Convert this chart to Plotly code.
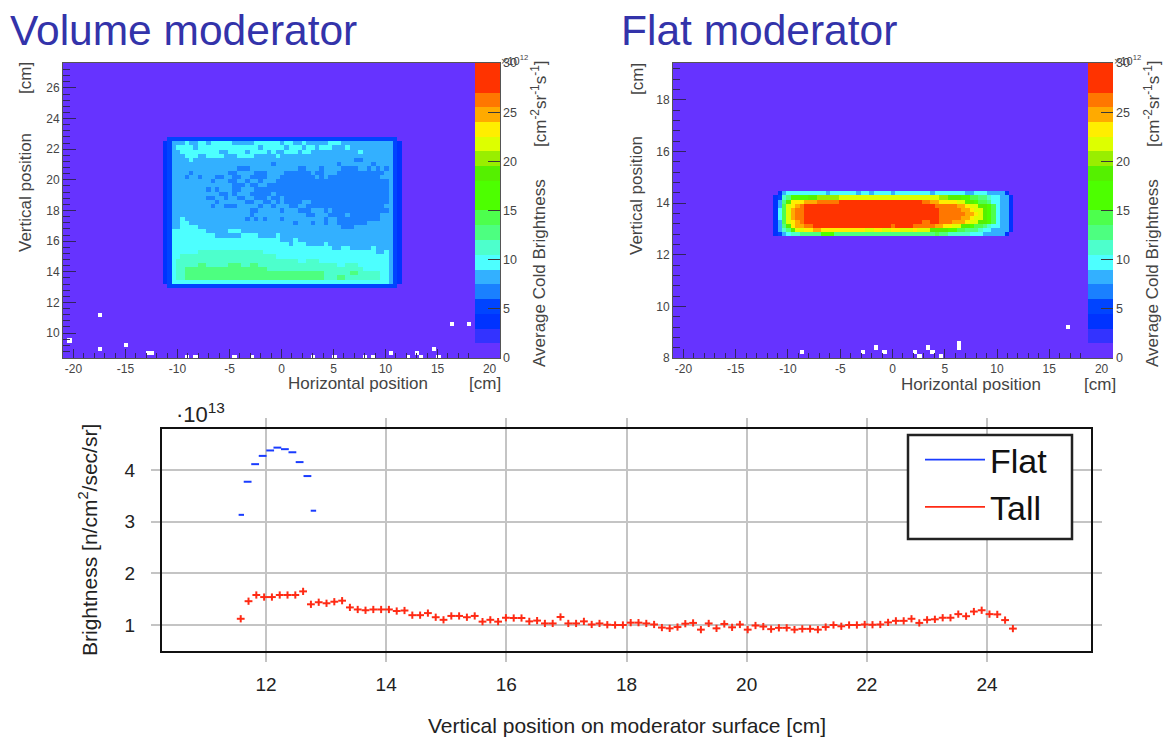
import numpy as np
import plotly.graph_objects as go

W, H = 1166, 740
def px(x): return x / W
def py(y): return 1 - y / H

# ---- bottom chart data (units of 1e13)
tall_values = [1.12,1.46,1.58,1.54,1.54,1.58,1.58,1.58,1.65,1.40,1.44,1.42,1.45,1.47,1.34,1.30,1.285,1.30,1.30,1.30,
 1.27,1.28,1.19,1.19,1.23,1.15,1.10,1.175,1.175,1.15,1.175,1.065,1.10,1.065,1.14,1.135,1.135,1.07,1.085,1.03,
 1.03,1.155,1.03,1.03,1.07,1.01,1.03,1.005,1.0,1.0,1.045,1.045,1.03,1.01,0.95,0.935,0.96,1.025,1.04,0.91,
 1.03,0.935,1.02,0.955,1.01,0.91,0.99,0.97,0.92,0.945,0.945,0.91,0.925,0.925,0.91,0.96,1.0,0.975,1.0,1.0,
 1.01,1.005,1.01,1.05,1.08,1.08,1.12,1.04,1.10,1.11,1.14,1.14,1.21,1.17,1.26,1.285,1.21,1.205,1.095,0.93]
tall_first, tall_last = 11.58, 24.43
flat_x = [11.59,11.695,11.82,11.945,12.07,12.19,12.315,12.44,12.56,12.69,12.79]
flat_values = [3.13,3.77,4.11,4.27,4.375,4.43,4.40,4.34,4.15,3.88,3.21]
flat_halfwidth = [0.045,0.065,0.065,0.065,0.065,0.065,0.065,0.065,0.065,0.065,0.045]

# ---- colour bands of the maps (one per 1.5e12)
band_colors = ["#6633ff","#3333ff","#0033ff","#0044ff","#1a80ff","#33b0ff","#4dffff","#4dffcc","#4dff80","#4dff4d",
               "#4dff00","#4dff00","#55f000","#99ee00","#ddff00","#ffee00","#ffaa00","#ff7700","#ff3300","#ff3300"]

# ---- map cells, one band digit per bin, top row first
volume_rows = [
"03333 33333 33333 33333 33333 33333 33333 33333 33333 33333 33330",
"23555 65566 56666 65555 56666 66566 55655 55566 65555 55555 55532",
"23566 66566 66666 66666 66566 66656 66566 56665 55655 55555 55532",
"23556 66666 66655 66665 66665 65566 65665 55555 55555 65555 55532",
"23555 66655 66665 55666 65555 56555 55555 55555 55555 55555 55532",
"23555 56555 55555 55555 55555 55555 55555 55555 55554 45555 55532",
"23555 55555 55555 55555 55555 45555 55555 55555 45555 55545 55532",
"23555 55555 55555 55444 55555 55555 54455 54555 54444 55454 54532",
"23555 54555 55555 44555 54445 55544 44445 44555 44444 44444 45532",
"23555 45545 55445 54455 44445 55444 44444 54544 44444 44444 55532",
"23555 55555 54555 44554 55455 54444 44444 44444 44444 44444 44532",
"23555 55555 55555 54445 44554 44444 44444 44444 44444 44444 44532",
"23555 55555 45455 54455 54444 44444 44444 44444 44444 44444 44532",
"23555 55555 55544 54555 44444 54444 44444 44444 44444 44444 44532",
"23555 55555 44554 55445 54445 44544 44444 44444 44444 44444 44532",
"23555 55555 55455 55554 45544 54544 44554 44444 44444 44444 44532",
"23555 55555 54554 44555 55455 45554 45544 44444 44444 44444 45532",
"23555 55555 55555 55555 44555 55455 54445 55454 44444 44444 44532",
"23555 55555 55555 55555 45555 55555 55544 55544 44544 44444 55532",
"23556 55555 55555 55554 54545 55455 55555 55455 44444 44444 55532",
"23556 65555 55555 55555 55555 55555 45554 55455 44444 44555 55532",
"23556 66655 55555 55555 55555 55555 55555 55555 54445 55555 55532",
"23666 66666 55555 66655 55555 55555 55555 55555 55555 55555 55532",
"23666 66666 66555 55566 66555 56555 55555 55555 55555 55555 55532",
"23666 66666 66666 66666 66666 66555 65555 55555 55555 55555 55532",
"23666 66666 66666 66666 66666 66665 66655 55655 55555 55555 55532",
"23666 66666 66666 66666 66666 66666 66666 66665 56655 55565 55532",
"23666 66677 77777 77777 77766 66666 66666 66666 66666 66665 56532",
"23667 77777 77777 77777 77777 76666 66666 66666 66666 66666 66532",
"23677 77777 77777 77777 77777 77777 76677 76666 66666 66666 66532",
"23677 77788 77777 88877 88777 77777 77777 77777 66777 66666 66532",
"23677 88888 88888 88888 88887 77777 77777 77777 77777 76666 66532",
"23677 88888 88888 88888 88888 88888 88888 88777 77788 77777 66532",
"23677 88888 88888 88888 88888 88888 88888 88777 88777 77777 66532",
"23666 66666 66666 66666 66666 66666 66666 66666 66666 66666 66532",
"03333 33333 33333 33333 33333 33333 33333 33333 33333 33333 33330",
]
flat_rows = [
"02566 66666 66566 66665 66566 66566 66666 65666 66665 56665 55520",
"2378a aaacc ddddd eeeee eeeee eeeee eeeee eeedd cccaa 99887 66552",
"258cf ffggg hhhhh iiiii iiiii iiiii iiiih hggff ffeec ca998 66552",
"259ef ghiii iiiii iiiii iiiii iiiii iiiii iihhh hhggf eecca 96552",
"269eg hhiii iiiii iiiii iiiii iiiii iiiii iiihh hhhgg feeca 96552",
"269eg hhiii iiiii iiiii iiiii iiiii iiiii iiihh hhhhg gfeca 96552",
"269eg hhiii iiiii iiiii iiiii iiiii iiiii iiihh hhhgg feeca 96552",
"259ef ghiii iiiii iiiii iiiii iiiii iiiih hiihh hgggf eecca 96552",
"258cf gghhi iiiii iiiii iiiii iihii iihhh hhggf feecc a9987 66552",
"2578c eeffg gffff fffff feeff eeffe eefee ecccc aa998 88766 55552",
"23567 78888 8aaa8 88888 88888 88888 88888 88988 77777 66655 55520",
]
# ---- empty (white) bins
volume_empty_x = [-17.4,16.2,17.9,-20.3,-17.4,-14.9,-12.7,-12.3,-9.1,-8.2,-4.6,-2.8,2.9,5.0,7.9,8.7,10.4,12.0,12.3,12.8,13.3,14.5,15.2,19.0]
volume_empty_y = [11.09,10.54,10.54,9.39,9.0,9.2,8.6,8.6,8.43,8.43,8.43,8.43,8.43,8.43,8.43,8.43,8.6,8.43,8.43,8.6,8.43,9.0,8.43,8.4]
flat_empty_x = [-8.75,-2.9,-1.66,-0.83,2.04,2.46,3.3,3.77,4.57,6.2,6.2,16.6]
flat_empty_y = [8.27,8.17,8.4,8.27,8.27,8.05,8.4,8.17,8.05,8.5,8.4,9.18]
map_ticks = [0,5,10,15,20,25,30]
map_x_ticks = [-20,-15,-10,-5,0,5,10,15,20]
map_x_labels = ["-20","-15","-10","-5","0","5","10","15","20"]
legend_names = ["Flat", "Tall"]

# ---- map grids: bins are aligned on the moderator's lower-left corner (x0, y0)
def build_map(rows, xr, yr, dx, dy, x0, y0, ex, ey):
    ci = int(np.ceil((x0 - xr[0]) / dx))
    ri = int(np.ceil((y0 - yr[0]) / dy))
    xe = x0 - ci * dx + dx * np.arange(int((xr[1] - xr[0]) / dx) + 3)
    ye = y0 - ri * dy + dy * np.arange(int((yr[1] - yr[0]) / dy) + 3)
    z = np.full((len(ye) - 1, len(xe) - 1), 0.75)
    rows = [r.replace(" ", "") for r in rows]
    for k, r in enumerate(reversed(rows)):
        for c, ch in enumerate(r):
            z[ri + k, ci + c] = int(ch, 36) * 1.5 + 0.75
    for a, b in zip(ex, ey):
        z[int((b - ye[0]) / dy), int((a - xe[0]) / dx)] = np.nan
    return xe, ye, z

scale = []
for i, c in enumerate(band_colors):
    scale += [[i / 20, c], [(i + 1) / 20, c]]

VX = (-21, 21); VY = (8.37, 27.63); FY = (8, 19.42)
xv, yv, zv = build_map(volume_rows, VX, VY, 0.417, 0.274, -11.41, 12.93, volume_empty_x, volume_empty_y)
xf, yf, zf = build_map(flat_rows, VX, FY, 0.417, 0.157, -11.41, 12.72, flat_empty_x, flat_empty_y)

fig = go.Figure()
def cbar(left):
    return dict(x=px(left), xanchor="left", xref="paper", y=py(358), yanchor="bottom", yref="paper",
                len=295 / H, lenmode="fraction", thickness=25, thicknessmode="pixels", xpad=0, ypad=0,
                tickvals=map_ticks, ticks="inside", ticklen=12, tickcolor="#3a3a3a", tickwidth=1,
                tickfont=dict(family="Liberation Sans", size=12.5, color="#444"), outlinewidth=0)

fig.add_trace(go.Heatmap(x=xv, y=yv, z=zv, colorscale=scale, zmin=0, zmax=30, xaxis="x", yaxis="y",
                         colorbar=cbar(475), hoverongaps=False))
fig.add_trace(go.Heatmap(x=xf, y=yf, z=zf, colorscale=scale, zmin=0, zmax=30, xaxis="x2", yaxis="y2",
                         colorbar=cbar(1088), hoverongaps=False))

# ---- bottom chart
tall_x = np.linspace(tall_first, tall_last, len(tall_values))
RED, BLUE = "#ff2a14", "#1a3cff"
fig.add_trace(go.Scatter(x=flat_x, y=flat_values, mode="markers", marker=dict(size=0.1, color=BLUE), showlegend=False,
                         error_x=dict(type="data", array=flat_halfwidth, color=BLUE, thickness=2, width=0),
                         xaxis="x3", yaxis="y3"))
fig.add_trace(go.Scatter(x=tall_x, y=tall_values, mode="markers", marker=dict(size=0.1, color=RED), showlegend=False,
                         error_x=dict(type="constant", value=0.065, color=RED, thickness=2, width=0),
                         error_y=dict(type="constant", value=0.07, color=RED, thickness=2, width=0),
                         xaxis="x3", yaxis="y3"))
for name, col in zip(legend_names, [BLUE, RED]):
    fig.add_trace(go.Scatter(x=[None], y=[None], mode="lines", name=name, line=dict(color=col, width=1.8), xaxis="x3", yaxis="y3"))

def map_x(left, right):
    return dict(domain=[px(left), px(right)], range=list(VX), tickvals=map_x_ticks, ticktext=map_x_labels,
                ticks="inside", ticklen=9, tickwidth=1,
                tickcolor="#33245f", showgrid=False, zeroline=False, showline=True, linecolor="#555", linewidth=1, mirror=True,
                minor=dict(dtick=1, tick0=0, ticks="inside", ticklen=5, tickcolor="#33245f", tickwidth=1, showgrid=False),
                tickfont=dict(family="Liberation Sans", size=12, color="#444"))
def map_y(rng):
    return dict(domain=[py(358), py(63)], range=list(rng), dtick=2, tick0=0, ticks="inside", ticklen=13, tickwidth=1,
                tickcolor="#33245f", showgrid=False, zeroline=False, showline=True, linecolor="#555", linewidth=1, mirror=True,
                minor=dict(dtick=0.4, tick0=0, ticks="inside", ticklen=7, tickcolor="#33245f", tickwidth=1, showgrid=False),
                tickfont=dict(family="Liberation Sans", size=12, color="#444"))

GRID = "#c4c4c4"
def note(text, x, y, size, color="#444", angle=0, xanchor="center", yanchor="middle"):
    return dict(text=text, xref="paper", yref="paper", x=px(x), y=py(y), showarrow=False, textangle=angle,
                xanchor=xanchor, yanchor=yanchor, font=dict(family="Liberation Sans", size=size, color=color))

TITLE = "#3333aa"
sup = lambda s: f"<sup>{s}</sup>"
unit = "[cm" + sup("-2") + "sr" + sup("-1") + "s" + sup("-1") + "]"
notes = [
    note("Volume moderator", 8, 30, 42.5, TITLE, xanchor="left"),
    note("Flat moderator", 619, 30, 42.5, TITLE, xanchor="left"),
    note("Vertical position", 25, 193, 17, angle=-90),
    note("[cm]", 25, 78, 17, angle=-90),
    note("Horizontal position", 358, 383, 17),
    note("[cm]", 485, 383, 17),
    note("Average Cold Brightness", 539, 273, 17, angle=-90),
    note(unit, 539, 104, 17, angle=-90),
    note("\u00d710" + sup("12"), 514, 60, 11),
    note("Vertical position", 637, 196, 17, angle=-90),
    note("[cm]", 637, 79, 17, angle=-90),
    note("Horizontal position", 971, 384, 17),
    note("[cm]", 1100, 384, 17),
    note("Average Cold Brightness", 1152, 273, 17, angle=-90),
    note(unit, 1152, 104, 17, angle=-90),
    note("\u00d710" + sup("12"), 1127, 60, 11),
    note("\u00b710" + sup("13"), 174, 413, 22, "#222", xanchor="left"),
    note("Brightness [n/cm" + sup("2") + "/sec/sr]", 88, 540, 21, "#222", angle=-90),
    note("Vertical position on moderator surface [cm]", 627, 725, 21, "#222"),
]
legend_box = dict(type="rect", xref="paper", yref="paper", x0=px(908), x1=px(1072), y0=py(539), y1=py(435),
                  fillcolor="white", line=dict(color="#222", width=2.5), layer="above")

fig.update_layout(
    width=W, height=H, autosize=False, margin=dict(l=0, r=0, t=0, b=0, autoexpand=False),
    paper_bgcolor="white", plot_bgcolor="white", shapes=[legend_box],
    xaxis=dict(map_x(63, 500), anchor="y"), yaxis=dict(map_y(VY), anchor="x"),
    xaxis2=dict(map_x(673, 1112), anchor="y2"), yaxis2=dict(map_y(FY), anchor="x2"),
    xaxis3=dict(domain=[px(162), px(1091)], range=[10.27, 25.73], dtick=2, tick0=12, anchor="y3",
                ticks="outside", ticklen=9, tickwidth=2, tickcolor=GRID, showgrid=True, gridcolor=GRID, gridwidth=2,
                zeroline=False, showline=True, linecolor="#111", linewidth=2.4, mirror="ticks", ticklabelstandoff=6,
                tickfont=dict(family="Liberation Sans", size=19, color="#222")),
    yaxis3=dict(domain=[py(651), py(429)], range=[0.497, 4.79], dtick=1, tick0=1, anchor="x3",
                ticks="outside", ticklen=9, tickwidth=2, tickcolor=GRID, showgrid=True, gridcolor=GRID, gridwidth=2,
                zeroline=False, showline=True, linecolor="#111", linewidth=2.4, mirror="ticks", ticklabelstandoff=12,
                tickfont=dict(family="Liberation Sans", size=19, color="#222")),
    legend=dict(x=px(920), y=py(431), xanchor="left", yanchor="top", bgcolor="rgba(0,0,0,0)", borderwidth=0,
                font=dict(family="Liberation Sans", size=34, color="#111"), itemwidth=60, tracegroupgap=0),
    annotations=notes,
)
fig.write_html("out.html", post_script="document.body.style.margin='0';", config=dict(displayModeBar=False))
